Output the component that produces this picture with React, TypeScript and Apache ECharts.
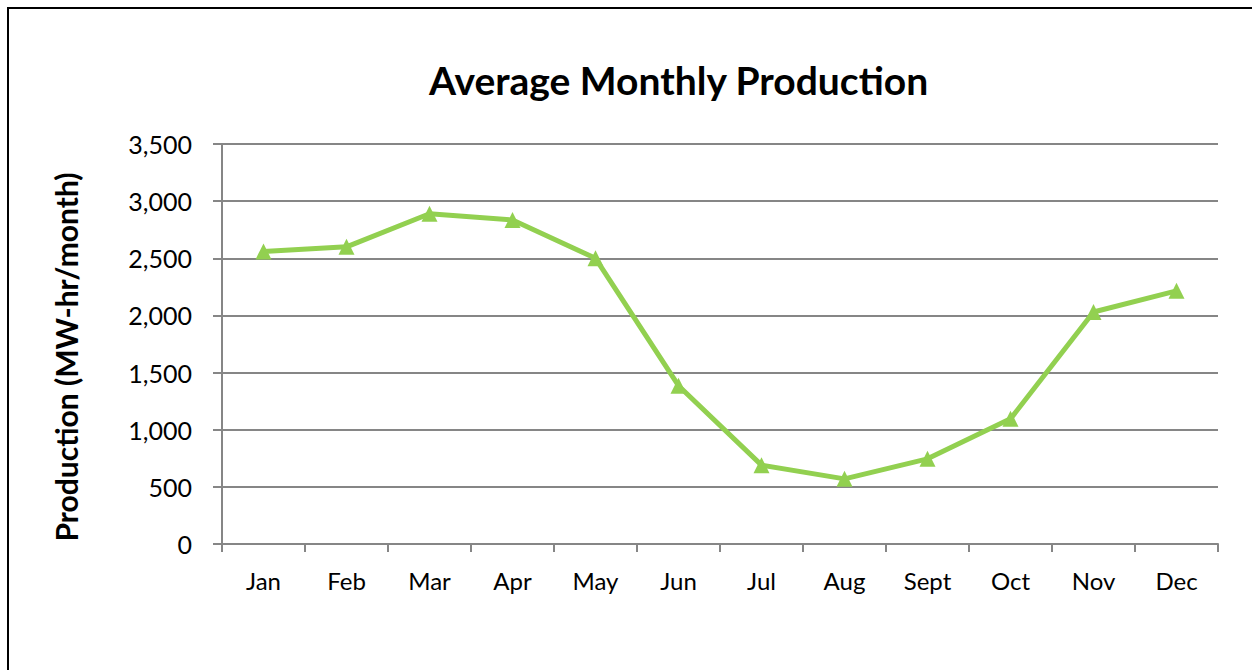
import React, { useEffect, useRef } from "react";
import * as echarts from "echarts";

const months = ["Jan", "Feb", "Mar", "Apr", "May", "Jun", "Jul", "Aug", "Sept", "Oct", "Nov", "Dec"];
const production = [2560, 2600, 2890, 2835, 2500, 1385, 690, 570, 745, 1095, 2030, 2215];
const yTicks = { min: 0, max: 3500, interval: 500 };
const titleText = "Average Monthly Production";
const yTitle = "Production (MW-hr/month)";

export default function App() {
  const ref = useRef<HTMLDivElement>(null);
  useEffect(() => {
    if (!ref.current) return;
    const chart = echarts.init(ref.current, null, { renderer: "svg" });
    const font = "Lato, 'Noto Sans', sans-serif";
    chart.setOption({
      animation: false,
      backgroundColor: "#ffffff",
      title: {
        text: titleText,
        left: 424,
        top: 55,
        textStyle: { fontFamily: font, fontWeight: "bold", fontSize: 39, color: "#000" },
      },
      grid: { left: 222, right: 34, top: 144, bottom: 126, containLabel: false },
      xAxis: {
        type: "category",
        data: months,
        boundaryGap: true,
        axisLine: { lineStyle: { color: "#868686", width: 2 } },
        axisTick: { show: true, length: 8, lineStyle: { color: "#868686", width: 2 } },
        axisLabel: { fontFamily: font, fontSize: 24, color: "#000", margin: 24 },
        splitLine: { show: false },
      },
      yAxis: {
        type: "value",
        min: yTicks.min,
        max: yTicks.max,
        interval: yTicks.interval,
        axisLine: { show: true, lineStyle: { color: "#868686", width: 2 } },
        axisTick: { show: true, length: 9, lineStyle: { color: "#868686", width: 2 } },
        axisLabel: {
          fontFamily: font,
          fontSize: 25,
          color: "#000",
          margin: 30,
          formatter: (v: number) => v.toLocaleString("en-US"),
        },
        splitLine: { show: true, lineStyle: { color: "#868686", width: 2 } },
      },
      graphic: [
        {
          type: "rect",
          shape: { x: 8, y: 8, width: 1400, height: 1000 },
          style: { fill: "none", stroke: "#000", lineWidth: 2 },
          silent: true,
        },
        {
          type: "text",
          x: 66,
          y: 357,
          rotation: Math.PI / 2,
          style: {
            text: yTitle,
            fontFamily: font,
            fontWeight: "bold",
            fontSize: 30,
            fill: "#000",
            textAlign: "center",
            textVerticalAlign: "middle",
          },
        },
      ],
      series: [
        {
          type: "line",
          data: production,
          symbol: "triangle",
          symbolSize: 16,
          lineStyle: { color: "#92D050", width: 5 },
          itemStyle: { color: "#92D050" },
        },
      ],
    });
    return () => chart.dispose();
  }, []);
  return (
    <div
      ref={ref}
      style={{ position: "fixed", left: 0, top: 0, width: 1252, height: 670 }}
    />
  );
}
